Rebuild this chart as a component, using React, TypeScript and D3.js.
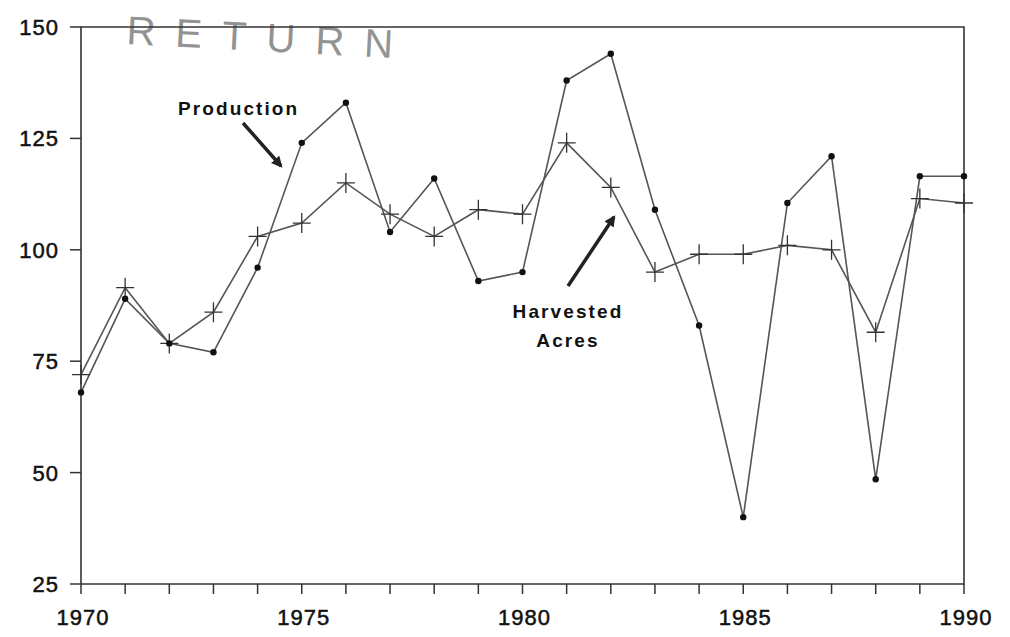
import React, { useRef, useEffect } from "react";
import * as d3 from "d3";

const years = [
  1970, 1971, 1972, 1973, 1974, 1975, 1976, 1977, 1978, 1979, 1980, 1981,
  1982, 1983, 1984, 1985, 1986, 1987, 1988, 1989, 1990,
];
const production = [
  68, 89, 79, 77, 96, 124, 133, 104, 116, 93, 95, 138, 144, 109, 83, 40,
  110.5, 121, 48.5, 116.5, 116.5,
];
const harvestedAcres = [
  72, 91.5, 79, 86, 103, 106, 115, 108, 103, 109, 108, 124, 114, 95, 99, 99,
  101, 100, 81.5, 111.5, 110.5,
];
const yTicks = [25, 50, 75, 100, 125, 150];
const xLabels = [1970, 1975, 1980, 1985, 1990];

const App = () => {
  const chartRef = useRef<SVGSVGElement>(null);

  useEffect(() => {
    const svg = d3.select(chartRef.current);
    svg.selectAll("*").remove();

    const width = 1010;
    const height = 637;
    const margin = { top: 27, right: 46, bottom: 53, left: 81 };

    const xScale = d3
      .scaleLinear()
      .domain([1970, 1990])
      .range([margin.left, width - margin.right]);
    const yScale = d3
      .scaleLinear()
      .domain([25, 150])
      .range([height - margin.bottom, margin.top]);

    svg.attr("width", width).attr("height", height);
    svg.append("rect").attr("width", width).attr("height", height).attr("fill", "#fff");

    const font = "Liberation Sans, Arial, Helvetica, sans-serif";
    const axisColor = "#333";

    // stamp remnant at the top of the scan
    svg
      .append("text")
      .attr("transform", "translate(126,44) rotate(3)")
      .attr("font-family", font)
      .attr("font-size", 40)
      .attr("letter-spacing", 20)
      .attr("fill", "#666")
      .attr("opacity", 0.7)
      .text("RETURN");

    // frame
    const x0 = xScale(1970);
    const x1 = xScale(1990);
    const yTop = yScale(150);
    const yBot = yScale(25);
    svg
      .append("path")
      .attr("d", `M${x0},${yBot} V${yTop} H${x1} V${yBot} H${x0}`)
      .attr("fill", "none")
      .attr("stroke", axisColor)
      .attr("stroke-width", 1.6);

    // y ticks
    const yAxis = svg.append("g");
    yAxis
      .selectAll("line")
      .data(yTicks)
      .enter()
      .append("line")
      .attr("x1", x0 - 11)
      .attr("x2", x0)
      .attr("y1", (d) => yScale(d))
      .attr("y2", (d) => yScale(d))
      .attr("stroke", axisColor)
      .attr("stroke-width", 1.5);
    yAxis
      .selectAll("text")
      .data(yTicks)
      .enter()
      .append("text")
      .attr("x", 59)
      .attr("y", (d) => yScale(d))
      .attr("dy", "0.36em")
      .attr("text-anchor", "end")
      .attr("font-family", font)
      .attr("font-size", 22)
      .attr("letter-spacing", 1)
      .attr("fill", "#111")
      .attr("stroke", "#111")
      .attr("stroke-width", 0.5)
      .text((d) => d);

    // x ticks
    const xAxis = svg.append("g");
    xAxis
      .selectAll("line")
      .data(years)
      .enter()
      .append("line")
      .attr("x1", (d) => xScale(d))
      .attr("x2", (d) => xScale(d))
      .attr("y1", yBot)
      .attr("y2", yBot + 10)
      .attr("stroke", axisColor)
      .attr("stroke-width", 1.5);
    xAxis
      .selectAll("text")
      .data(xLabels)
      .enter()
      .append("text")
      .attr("x", (d) => xScale(d) + 2)
      .attr("y", 625)
      .attr("text-anchor", "middle")
      .attr("font-family", font)
      .attr("font-size", 22)
      .attr("letter-spacing", 1)
      .attr("fill", "#111")
      .attr("stroke", "#111")
      .attr("stroke-width", 0.5)
      .text((d) => d);

    const line = d3
      .line<number>()
      .x((d, i) => xScale(years[i]))
      .y((d) => yScale(d));

    svg
      .append("path")
      .datum(harvestedAcres)
      .attr("d", line)
      .attr("fill", "none")
      .attr("stroke", "#555")
      .attr("stroke-width", 1.6);
    svg
      .append("path")
      .datum(production)
      .attr("d", line)
      .attr("fill", "none")
      .attr("stroke", "#555")
      .attr("stroke-width", 1.6);

    // plus markers
    svg
      .append("g")
      .selectAll("path")
      .data(harvestedAcres)
      .enter()
      .append("path")
      .attr("d", (d, i) => {
        const cx = xScale(years[i]);
        const cy = yScale(d);
        return `M${cx - 9},${cy} H${cx + 9} M${cx},${cy - 10} V${cy + 10}`;
      })
      .attr("stroke", "#333")
      .attr("stroke-width", 1.3);

    // dot markers
    svg
      .append("g")
      .selectAll("circle")
      .data(production)
      .enter()
      .append("circle")
      .attr("cx", (d, i) => xScale(years[i]))
      .attr("cy", (d) => yScale(d))
      .attr("r", 3.2)
      .attr("fill", "#111");

    // annotations
    const defs = svg.append("defs");
    defs
      .append("marker")
      .attr("id", "head")
      .attr("viewBox", "0 0 10 10")
      .attr("refX", 8)
      .attr("refY", 5)
      .attr("markerWidth", 3.2)
      .attr("markerHeight", 3.2)
      .attr("orient", "auto")
      .append("path")
      .attr("d", "M0,0 L10,5 L0,10 z")
      .attr("fill", "#222");

    const label = (x: number, y: number, txt: string, anchor: string) =>
      svg
        .append("text")
        .attr("x", x)
        .attr("y", y)
        .attr("text-anchor", anchor)
        .attr("font-family", font)
        .attr("font-size", 19)
        .attr("font-weight", "bold")
        .attr("letter-spacing", 2.1)
        .attr("fill", "#111")
        .text(txt);

    label(178, 115, "Production", "start");
    svg
      .append("line")
      .attr("x1", 243)
      .attr("y1", 123)
      .attr("x2", 281)
      .attr("y2", 166)
      .attr("stroke", "#222")
      .attr("stroke-width", 3.5)
      .attr("marker-end", "url(#head)");

    label(568, 318, "Harvested", "middle");
    label(568, 347, "Acres", "middle");
    svg
      .append("line")
      .attr("x1", 568)
      .attr("y1", 286)
      .attr("x2", 614)
      .attr("y2", 217)
      .attr("stroke", "#222")
      .attr("stroke-width", 3.5)
      .attr("marker-end", "url(#head)");
  }, []);

  return (
    <svg
      ref={chartRef}
      style={{ position: "absolute", left: 0, top: 0, display: "block" }}
    ></svg>
  );
};

export default App;
